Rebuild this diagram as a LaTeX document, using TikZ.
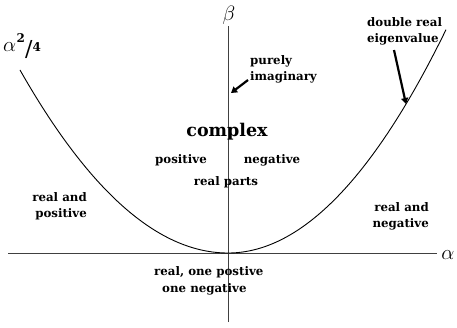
\documentclass[tikz,border=0pt]{standalone}
\usepackage{fontspec}
\setmainfont{DejaVu Serif}
\usetikzlibrary{arrows.meta}
\begin{document}
\begin{tikzpicture}[x=1pt,y=-1pt,
  lbl/.style={font=\bfseries\fontsize{11.8}{16}\selectfont, inner sep=0pt},
  big/.style={font=\bfseries\fontsize{17.5}{20}\selectfont, inner sep=0pt},
  mlbl/.style={font=\fontsize{22}{24}\selectfont, inner sep=0pt},
  axis/.style={line width=0.8pt, black!75},
  curve/.style={line width=0.9pt, black},
  pointer/.style={line width=2.2pt, -{Triangle[length=6pt,width=7pt]}}]
\useasboundingbox (0,0) rectangle (457,327);
% axes
\coordinate (xl) at (8,253);
\coordinate (xr) at (437,253);
\coordinate (yt) at (228,26);
\coordinate (yb) at (228,322);
\draw[axis] (xl) -- (xr);
\draw[axis] (yb) -- (yt);
\node[mlbl, anchor=base] (alab) at (448,259) {$\alpha$};
\node[mlbl, anchor=base] (blab) at (229,20) {$\beta$};
\node[mlbl, anchor=base west] (a24) at (3,51) {$\alpha$\hspace{0.5pt}\raisebox{9pt}{\fontsize{12}{13}\selectfont\bfseries 2}\hspace{0pt}\raisebox{-5pt}{\fontsize{22}{24}\selectfont /}\hspace{0pt}\raisebox{0pt}{\fontsize{12}{13}\selectfont\bfseries 4}};
% parabola
\draw[curve] plot[domain=20:228, samples=80, smooth] (\x, {253-42.3*((\x-228)/100)^2});
\draw[curve] plot[domain=228:446, samples=80, smooth] (\x, {253-47*((\x-228)/100)^2});
% labels
\node[lbl, align=left, anchor=north west] (pim) at (250,55) {purely\\imaginary};
\node[lbl, align=left, anchor=north west] (dre) at (367,17) {double real\\eigenvalue};
\node[big] (cpx) at (227,132) {complex};
\node[lbl] (pos) at (181,160) {positive};
\node[lbl] (neg) at (272,160) {negative};
\node[lbl] (rp) at (226,182) {real parts};
\node[lbl, align=right, anchor=north east] (rap) at (87,192) {real and\\positive};
\node[lbl, align=right, anchor=north east] (ran) at (429,202) {real and\\negative};
\node[lbl, anchor=west] (r1) at (154,272) {real, one postive};
\node[lbl, anchor=west] (r2) at (162,289) {one negative};
% pointers
\coordinate (piTail) at (248,80);
\coordinate (piTip) at (231,93);
\draw[pointer] (piTail) -- (piTip);
\coordinate (drTail) at (394,50);
\coordinate (drTip) at (406,104);
\draw[pointer] (drTail) -- (drTip);
\end{tikzpicture}
\end{document}
